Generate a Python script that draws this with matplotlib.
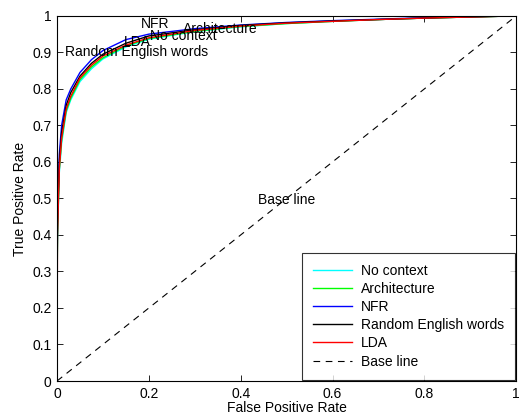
import matplotlib
matplotlib.use("Agg")
import matplotlib.pyplot as plt

plt.rcParams['font.family'] = ['Liberation Sans', 'DejaVu Sans']

fpr = [0, 0.001, 0.005, 0.01, 0.02, 0.03, 0.05, 0.075, 0.1, 0.15, 0.2, 0.3, 0.4, 0.5, 0.6, 0.7, 0.8, 0.9, 1.0]
tpr_no_context = [0.2, 0.39, 0.57, 0.65, 0.735, 0.77, 0.82, 0.855, 0.882, 0.915, 0.936, 0.957, 0.97, 0.979, 0.985, 0.99, 0.994, 0.997, 1.0]
tpr_architecture = [0.2, 0.40, 0.58, 0.66, 0.74, 0.775, 0.825, 0.86, 0.885, 0.918, 0.938, 0.958, 0.971, 0.979, 0.985, 0.99, 0.994, 0.997, 1.0]
tpr_nfr = [0.2, 0.45, 0.62, 0.70, 0.77, 0.80, 0.845, 0.88, 0.905, 0.935, 0.95, 0.965, 0.975, 0.982, 0.987, 0.991, 0.995, 0.998, 1.0]
tpr_random = [0.2, 0.43, 0.60, 0.68, 0.755, 0.79, 0.835, 0.87, 0.895, 0.925, 0.945, 0.962, 0.974, 0.981, 0.986, 0.99, 0.994, 0.997, 1.0]
tpr_lda = [0.0, 0.40, 0.58, 0.665, 0.745, 0.78, 0.83, 0.865, 0.89, 0.92, 0.94, 0.96, 0.972, 0.98, 0.985, 0.99, 0.994, 0.997, 1.0]
baseline = [0, 1]

series = ["No context", "Architecture", "NFR", "Random English words", "LDA"]
colors = ["#00ffff", "#00ff00", "#0000ff", "#000000", "#ff0000"]

ann_labels = ["Random English words", "LDA", "NFR", "No context", "Architecture", "Base line"]
ann_x = [0.017, 0.146, 0.182, 0.203, 0.274, 0.438]
ann_y = [0.90, 0.929, 0.978, 0.945, 0.964, 0.496]

fig = plt.figure(figsize=(5.23, 4.18), dpi=100)
ax = fig.add_axes([0.109, 0.0885, 0.878, 0.8735])

for name, tpr, c in zip(series, [tpr_no_context, tpr_architecture, tpr_nfr, tpr_random, tpr_lda], colors):
    ax.plot(fpr, tpr, color=c, lw=1.0, label=name)
ax.plot(baseline, baseline, color='black', lw=0.8, ls=(0, (6, 5)), label="Base line")

for t, x, y in zip(ann_labels, ann_x, ann_y):
    ax.text(x, y, t, ha='left', va='center', fontsize=10)

ax.set_xlim(0, 1)
ax.set_ylim(0, 1)
ax.set_xticks([0, 0.2, 0.4, 0.6, 0.8, 1])
ax.set_xticklabels(["0", "0.2", "0.4", "0.6", "0.8", "1"])
ax.set_yticks([i / 10 for i in range(11)])
ax.set_yticklabels(["0"] + ["0.%d" % i for i in range(1, 10)] + ["1"])
ax.tick_params(direction='in', top=True, right=True, length=4, width=0.6, labelsize=10, pad=4)
for s in ax.spines.values():
    s.set_linewidth(0.8)
ax.set_xlabel("False Positive Rate", fontsize=10, labelpad=0)
ax.set_ylabel("True Positive Rate", fontsize=10, labelpad=4)

leg = ax.legend(loc='lower right', fontsize=10, frameon=True, fancybox=False,
                edgecolor='black', handlelength=2.8, borderaxespad=0.1,
                labelspacing=0.3, handletextpad=0.6, borderpad=0.8)
leg.get_frame().set_linewidth(0.8)

fig.savefig("out.png", dpi=100)
